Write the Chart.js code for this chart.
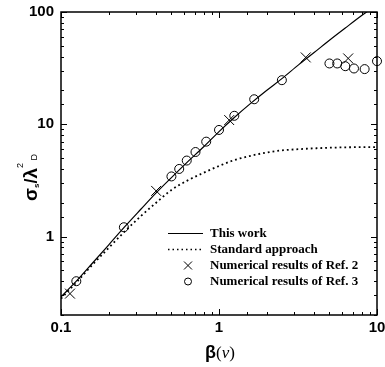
<!DOCTYPE html>
<html><head><meta charset="utf-8">
<script src="https://cdn.jsdelivr.net/npm/chart.js@4/dist/chart.umd.min.js"></script>
<style>html,body{margin:0;padding:0;background:#fff}canvas{display:block}</style>
</head><body>
<canvas id="c" width="385" height="367"></canvas>
<script>
// ---- data ----
const thisWorkX = [0.1,0.125,0.16,0.2,0.25,0.32,0.4,0.5,0.63,0.8,1.0,1.25,1.6,2.0,2.5,3.2,4.0,5.0,6.3,8.0,8.6,9.0];
const thisWorkY = [0.29,0.40,0.59,0.84,1.2,1.75,2.45,3.35,4.6,6.3,8.6,11.5,15.5,20,25.5,34,43.5,56,72,93,100,105];
const standardX = [0.1,0.125,0.16,0.2,0.25,0.32,0.4,0.5,0.63,0.8,1.0,1.25,1.6,2.0,2.5,3.2,4.0,5.0,6.3,8.0,10];
const standardY = [0.28,0.39,0.57,0.79,1.09,1.52,2.0,2.6,3.15,3.7,4.25,4.8,5.25,5.6,5.85,6.0,6.1,6.18,6.23,6.26,6.27];
const ref2X = [0.114,0.4,1.16,3.54,6.57];
const ref2Y = [0.31,2.55,10.9,39.4,38.6];
const ref3X = [0.125,0.25,0.5,0.56,0.625,0.71,0.83,1.0,1.25,1.67,2.5,5.0,5.6,6.3,7.15,8.35,10.0];
const ref3Y = [0.40,1.21,3.43,4.0,4.75,5.66,7.0,8.9,11.9,16.7,24.7,34.8,34.8,32.9,31.4,31.0,36.5];
const seriesLabels = ['This work','Standard approach','Numerical results of Ref. 2','Numerical results of Ref. 3'];
const xTickLabels = [0.1,1,10];
const yTickLabels = [1,10,100];

const pts = (xs, ys) => xs.map((x, i) => ({x, y: ys[i]}));
const isDecade = v => Math.abs(Math.log10(v) - Math.round(Math.log10(v))) < 1e-6;
const SANS = '"Liberation Sans", Arial, sans-serif';
const SERIF = '"Liberation Serif", "Times New Roman", serif';

const framePlugin = {
  id: 'frame',
  afterDatasetsDraw(chart) {
    const {ctx, chartArea: a, scales} = chart;
    ctx.save();
    ctx.strokeStyle = '#000';
    ctx.lineWidth = 1;
    ctx.beginPath();
    scales.x.ticks.forEach(t => {
      const p = Math.round(scales.x.getPixelForValue(t.value)) + 0.5;
      const len = isDecade(t.value) ? 6 : 3;
      ctx.moveTo(p, a.bottom); ctx.lineTo(p, a.bottom - len);
      ctx.moveTo(p, a.top); ctx.lineTo(p, a.top + len);
    });
    scales.y.ticks.forEach(t => {
      const p = Math.round(scales.y.getPixelForValue(t.value)) + 0.5;
      const len = isDecade(t.value) ? 6 : 3;
      ctx.moveTo(a.left, p); ctx.lineTo(a.left + len, p);
      ctx.moveTo(a.right, p); ctx.lineTo(a.right - len, p);
    });
    ctx.stroke();
    ctx.lineWidth = 1.5;
    ctx.strokeRect(a.left, a.top, a.right - a.left, a.bottom - a.top);
    ctx.restore();
  },
  afterDraw(chart) {
    const {ctx, chartArea: a} = chart;
    ctx.save();
    ctx.fillStyle = '#000';
    // ---- legend ----
    const ds = chart.data.datasets;
    const sx = a.left + 127, tx = a.left + 149;
    const rows = [a.top + 221, a.top + 237.5, a.top + 253.5, a.top + 269.5];
    ctx.font = 'bold 13px ' + SERIF;
    ctx.textBaseline = 'middle';
    ctx.textAlign = 'left';
    ds.forEach((d, i) => {
      const y = rows[i];
      ctx.strokeStyle = '#000';
      ctx.lineWidth = 1;
      ctx.beginPath();
      if (i === 0) { ctx.moveTo(sx - 20, y + 0.5); ctx.lineTo(sx + 15, y + 0.5); ctx.stroke(); }
      else if (i === 1) { ctx.setLineDash([1.5, 3]); ctx.lineWidth = 1.5; ctx.moveTo(sx - 20, y); ctx.lineTo(sx + 15, y); ctx.stroke(); ctx.setLineDash([]); }
      else if (i === 2) { const r = 4; ctx.moveTo(sx - r, y - r); ctx.lineTo(sx + r, y + r); ctx.moveTo(sx + r, y - r); ctx.lineTo(sx - r, y + r); ctx.stroke(); }
      else { ctx.arc(sx, y, 3.5, 0, Math.PI * 2); ctx.stroke(); }
      ctx.fillText(d.label, tx, y + 0.5);
    });
    // ---- x axis title: β(v) ----
    const parts = [
      {t: 'β', f: 'bold 18px ' + SANS},
      {t: '(', f: '17px ' + SERIF},
      {t: 'v', f: 'italic 17px ' + SERIF},
      {t: ')', f: '17px ' + SERIF}
    ];
    ctx.textBaseline = 'alphabetic';
    let w = 0;
    parts.forEach(p => { ctx.font = p.f; p.w = ctx.measureText(p.t).width; w += p.w; });
    let x = (a.left + a.right) / 2 + 1 - w / 2;
    parts.forEach(p => { ctx.font = p.f; ctx.fillText(p.t, x, 358); x += p.w; });
    // ---- y axis title: σs/λ²D ----
    ctx.translate(37, 201);
    ctx.rotate(-Math.PI / 2);
    const yp = [
      {t: 'σ', f: 'bold 19px ' + SANS, dy: 0},
      {t: 's', f: 'bold 8px ' + SANS, dy: 2},
      {t: '/', f: 'bold 18px ' + SANS, dy: 0},
      {t: 'λ', f: 'bold 19px ' + SANS, dy: 0},
      {t: '2', f: '9px ' + SANS, dy: -14},
      {t: ' D', f: '9px ' + SANS, dy: 0}
    ];
    let px = 0;
    yp.forEach(p => { ctx.font = p.f; ctx.fillText(p.t, px, p.dy); px += ctx.measureText(p.t).width; });
    ctx.restore();
  }
};

Chart.defaults.font.family = SANS;
Chart.defaults.color = '#000';

new Chart(document.getElementById('c'), {
  type: 'scatter',
  data: {
    datasets: [
      {label: seriesLabels[0], type: 'line', data: pts(thisWorkX, thisWorkY), borderColor: '#000', borderWidth: 1.2, pointRadius: 0, cubicInterpolationMode: 'monotone', fill: false},
      {label: seriesLabels[1], type: 'line', data: pts(standardX, standardY), borderColor: '#000', borderWidth: 1.8, borderDash: [1.8, 3], pointRadius: 0, cubicInterpolationMode: 'monotone', fill: false},
      {label: seriesLabels[2], data: pts(ref2X, ref2Y), pointStyle: 'crossRot', pointRadius: 7, borderColor: '#000', borderWidth: 1, backgroundColor: 'rgba(0,0,0,0)', clip: false},
      {label: seriesLabels[3], data: pts(ref3X, ref3Y), pointStyle: 'circle', pointRadius: 4.5, borderColor: '#000', borderWidth: 1, backgroundColor: 'rgba(0,0,0,0)', clip: false}
    ]
  },
  options: {
    responsive: false,
    animation: false,
    devicePixelRatio: 1,
    layout: {padding: {left: 0, right: 6, top: 12, bottom: 0}},
    plugins: {legend: {display: false}, tooltip: {enabled: false}},
    scales: {
      x: {
        type: 'logarithmic', min: 0.1, max: 10,
        grid: {display: false, drawTicks: false},
        border: {display: false},
        ticks: {
          autoSkip: false, maxRotation: 0, padding: 4,
          font: {size: 15, weight: 'bold'},
          callback: v => xTickLabels.some(t => Math.abs(t - v) < 1e-9) ? String(v) : ''
        },
        afterFit: s => { s.height = 52; s.paddingLeft = 0; s.paddingRight = 0; }
      },
      y: {
        type: 'logarithmic', min: 0.2, max: 100,
        grid: {display: false, drawTicks: false},
        border: {display: false},
        ticks: {
          autoSkip: false, padding: 7,
          font: {size: 15, weight: 'bold'},
          callback: v => yTickLabels.some(t => Math.abs(t - v) < 1e-9) ? String(v) : ''
        },
        afterFit: s => { s.width = 61; s.paddingTop = 0; s.paddingBottom = 0; }
      }
    }
  },
  plugins: [framePlugin]
});
</script>
</body></html>
